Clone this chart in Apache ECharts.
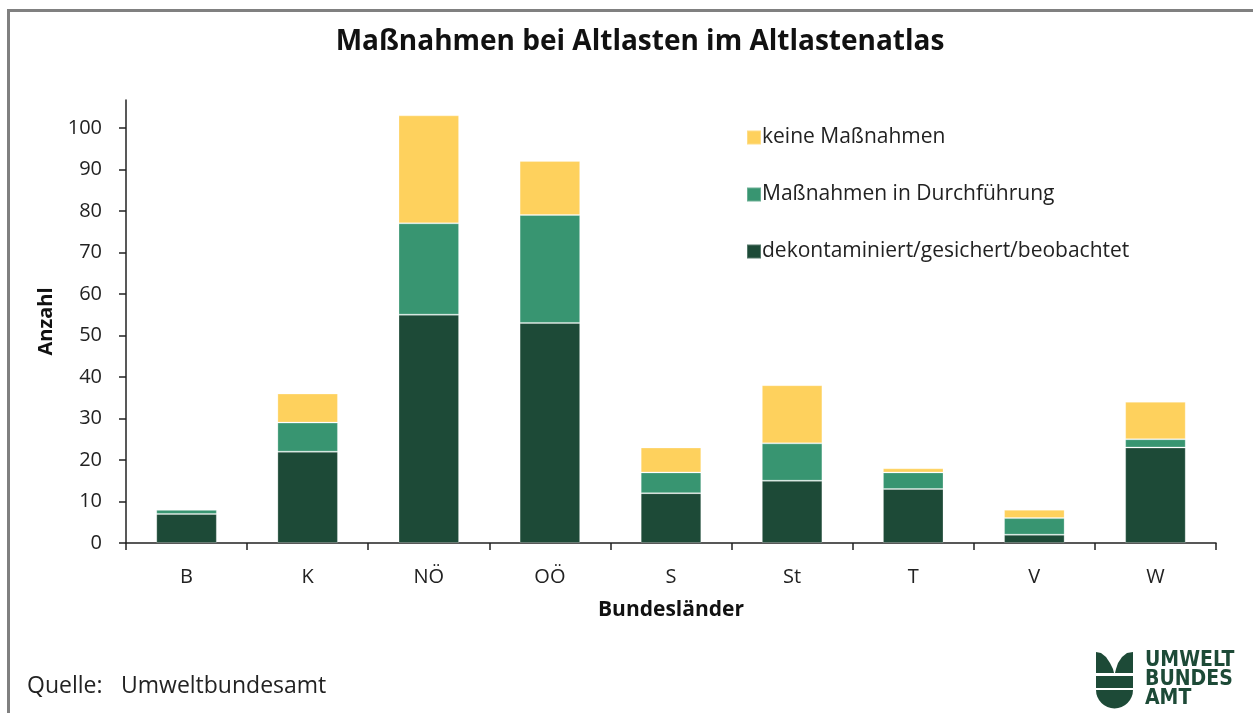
<!DOCTYPE html>
<html>
<head>
<meta charset="utf-8">
<script src="https://cdn.jsdelivr.net/npm/echarts@6/dist/echarts.min.js"></script>
<style>
  html, body { margin: 0; padding: 0; background: #fff; }
  #chart { width: 1253px; height: 713px; }
</style>
</head>
<body>
<div id="chart"></div>
<script>
const categories = ['B', 'K', 'NÖ', 'OÖ', 'S', 'St', 'T', 'V', 'W'];
const gesichert = [7, 22, 55, 53, 12, 15, 13, 2, 23];
const inDurchfuehrung = [1, 7, 22, 26, 5, 9, 4, 4, 2];
const keine = [0, 7, 26, 13, 6, 14, 1, 2, 9];
const yTicks = [0, 10, 20, 30, 40, 50, 60, 70, 80, 90, 100];

const FONT = '"Open Sans", "Noto Sans", sans-serif';
const colDark = '#1D4A37';
const colMid = '#389571';
const colYellow = '#FED15D';

const chart = echarts.init(document.getElementById('chart'));

function barSeries(name, data, color) {
  return {
    name: name,
    type: 'bar',
    stack: 'total',
    data: data,
    barWidth: '50%',
    itemStyle: { color: color, borderColor: 'rgba(255,255,255,0.25)', borderWidth: 1 },
    emphasis: { disabled: true }
  };
}

chart.setOption({
  animation: false,
  textStyle: { fontFamily: FONT },
  title: {
    text: 'Maßnahmen bei Altlasten im Altlastenatlas',
    left: 635,
    textAlign: 'center',
    top: 23,
    textStyle: { fontFamily: FONT, fontSize: 28, fontWeight: 'bold', color: '#111' }
  },
  legend: {
    orient: 'vertical',
    left: 741,
    top: 122,
    itemWidth: 14,
    itemHeight: 14,
    itemGap: 36,
    icon: 'rect',
    data: ['keine Maßnahmen', 'Maßnahmen in Durchführung', 'dekontaminiert/gesichert/beobachtet'],
    textStyle: { fontFamily: FONT, fontSize: 21, color: '#222', padding: [0, 0, 0, -4] }
  },
  grid: { left: 126, right: 37, top: 100, bottom: 170 },
  xAxis: {
    type: 'category',
    data: categories,
    name: 'Bundesländer',
    nameLocation: 'middle',
    nameGap: 57,
    nameTextStyle: { fontFamily: FONT, fontSize: 21, fontWeight: 'bold', color: '#111' },
    axisLine: { lineStyle: { color: '#222', width: 1.5 } },
    axisTick: { show: true, length: 7, lineStyle: { color: '#222', width: 1.5 } },
    axisLabel: { fontFamily: FONT, fontSize: 20, color: '#222', margin: 24 }
  },
  yAxis: {
    type: 'value',
    min: 0,
    max: 106.7,
    interval: 10,
    name: 'Anzahl',
    nameLocation: 'middle',
    nameGap: 70,
    nameTextStyle: { fontFamily: FONT, fontSize: 20, fontWeight: 'bold', color: '#111' },
    axisLine: { show: true, lineStyle: { color: '#222', width: 1.5 } },
    axisTick: { show: true, length: 7, customValues: yTicks, lineStyle: { color: '#222', width: 1.5 } },
    axisLabel: { fontFamily: FONT, fontSize: 20, color: '#222', margin: 24, customValues: yTicks },
    splitLine: { show: false }
  },
  series: [
    barSeries('dekontaminiert/gesichert/beobachtet', gesichert, colDark),
    barSeries('Maßnahmen in Durchführung', inDurchfuehrung, colMid),
    barSeries('keine Maßnahmen', keine, colYellow)
  ],
  graphic: [
    { type: 'rect', shape: { x: 8.5, y: 10.5, width: 1400, height: 900 }, style: { fill: 'none', stroke: '#808080', lineWidth: 3 }, silent: true },
    { type: 'text', left: 27, top: 675, style: { text: 'Quelle:', font: '23px ' + FONT, fill: '#222' } },
    { type: 'text', left: 121, top: 675, style: { text: 'Umweltbundesamt', font: '23px ' + FONT, fill: '#222' } },
    // logo
    { type: 'polygon', shape: { points: [[1096, 652], [1101, 653], [1106, 657], [1110, 663], [1113, 669], [1114, 673], [1096, 673]] }, style: { fill: colDark } },
    { type: 'polygon', shape: { points: [[1133, 652], [1127, 653], [1122, 657], [1118, 663], [1116, 669], [1115, 673], [1133, 673]] }, style: { fill: colDark } },
    { type: 'rect', shape: { x: 1096, y: 676, width: 37, height: 12 }, style: { fill: colDark } },
    { type: 'sector', shape: { cx: 1114.5, cy: 690, r: 18.5, startAngle: 0, endAngle: Math.PI }, style: { fill: colDark } },
    { type: 'text', left: 1145, top: 650, style: { text: 'UMWELT\nBUNDES\nAMT', font: 'bold 21px "Liberation Sans Narrow", "DejaVu Sans Condensed", sans-serif', lineHeight: 19, fill: colDark } }
  ]
});
</script>
</body>
</html>
